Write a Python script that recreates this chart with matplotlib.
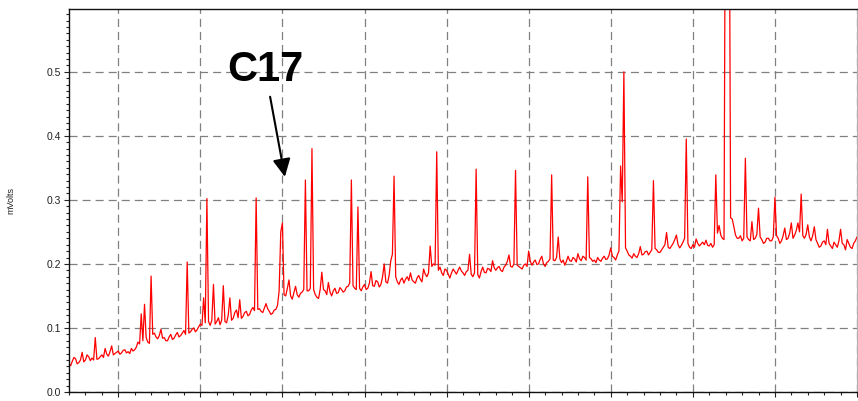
import numpy as np
import matplotlib
matplotlib.use("Agg")
import matplotlib.pyplot as plt
from matplotlib.patches import ArrowStyle
from matplotlib.ticker import MultipleLocator, NullFormatter

plt.rcParams['font.family'] = ['Liberation Sans', 'DejaVu Sans']
plt.rcParams['lines.scale_dashes'] = False

# detector signal (mV), one reading every 0.02 min starting at 0.4 min
start_time = 0.4
sample_step = 0.02
signal = [
    0.044, 0.041, 0.048, 0.054, 0.052, 0.044, 0.046, 0.050, 0.062, 0.047,
    0.050, 0.058, 0.055, 0.049, 0.053, 0.050, 0.085, 0.051, 0.052, 0.055,
    0.058, 0.054, 0.068, 0.059, 0.056, 0.063, 0.072, 0.058, 0.060, 0.062,
    0.064, 0.059, 0.061, 0.065, 0.066, 0.061, 0.063, 0.060, 0.068, 0.064,
    0.066, 0.070, 0.078, 0.075, 0.122, 0.080, 0.137, 0.085, 0.078, 0.076,
    0.181, 0.090, 0.092, 0.086, 0.083, 0.088, 0.098, 0.084, 0.085, 0.080,
    0.080, 0.086, 0.090, 0.082, 0.084, 0.089, 0.093, 0.086, 0.088, 0.092,
    0.096, 0.090, 0.203, 0.092, 0.094, 0.098, 0.100, 0.094, 0.097, 0.102,
    0.106, 0.104, 0.147, 0.108, 0.302, 0.110, 0.104, 0.112, 0.168, 0.106,
    0.110, 0.116, 0.105, 0.112, 0.166, 0.110, 0.108, 0.120, 0.147, 0.112,
    0.115, 0.124, 0.128, 0.116, 0.144, 0.115, 0.118, 0.124, 0.126, 0.119,
    0.121, 0.128, 0.132, 0.127, 0.303, 0.129, 0.130, 0.126, 0.124, 0.131,
    0.138, 0.130, 0.126, 0.121, 0.123, 0.128, 0.129, 0.135, 0.158, 0.250,
    0.264, 0.152, 0.150, 0.162, 0.175, 0.150, 0.145, 0.155, 0.165, 0.152,
    0.148, 0.154, 0.156, 0.160, 0.331, 0.158, 0.158, 0.162, 0.380, 0.160,
    0.152, 0.148, 0.146, 0.160, 0.187, 0.160, 0.158, 0.152, 0.171, 0.156,
    0.150, 0.158, 0.162, 0.154, 0.155, 0.163, 0.160, 0.156, 0.158, 0.164,
    0.165, 0.170, 0.331, 0.166, 0.162, 0.160, 0.289, 0.162, 0.158, 0.164,
    0.168, 0.160, 0.162, 0.170, 0.188, 0.166, 0.165, 0.174, 0.172, 0.164,
    0.168, 0.180, 0.200, 0.172, 0.170, 0.182, 0.205, 0.215, 0.337, 0.180,
    0.172, 0.168, 0.175, 0.178, 0.170, 0.176, 0.180, 0.174, 0.186, 0.175,
    0.172, 0.170, 0.178, 0.182, 0.176, 0.172, 0.192, 0.184, 0.180, 0.186,
    0.228, 0.196, 0.200, 0.198, 0.375, 0.190, 0.195, 0.186, 0.182, 0.192,
    0.190, 0.184, 0.178, 0.186, 0.192, 0.188, 0.184, 0.190, 0.195, 0.189,
    0.186, 0.182, 0.188, 0.190, 0.215, 0.184, 0.180, 0.186, 0.348, 0.183,
    0.178, 0.188, 0.195, 0.187, 0.186, 0.193, 0.192, 0.188, 0.205, 0.194,
    0.190, 0.194, 0.196, 0.190, 0.188, 0.195, 0.198, 0.204, 0.214, 0.196,
    0.195, 0.200, 0.346, 0.198, 0.196, 0.194, 0.192, 0.198, 0.200, 0.196,
    0.220, 0.204, 0.198, 0.203, 0.206, 0.199, 0.200, 0.207, 0.212, 0.200,
    0.196, 0.202, 0.204, 0.208, 0.339, 0.206, 0.205, 0.210, 0.242, 0.208,
    0.202, 0.206, 0.198, 0.204, 0.212, 0.205, 0.204, 0.210, 0.208, 0.203,
    0.216, 0.208, 0.205, 0.212, 0.210, 0.206, 0.336, 0.210, 0.208, 0.204,
    0.206, 0.202, 0.210, 0.206, 0.204, 0.209, 0.212, 0.207, 0.208, 0.214,
    0.225, 0.212, 0.210, 0.206, 0.214, 0.220, 0.353, 0.297, 0.500, 0.225,
    0.220, 0.214, 0.212, 0.209, 0.216, 0.212, 0.210, 0.216, 0.227, 0.214,
    0.215, 0.219, 0.220, 0.214, 0.218, 0.222, 0.330, 0.224, 0.222, 0.218,
    0.218, 0.222, 0.226, 0.230, 0.249, 0.226, 0.224, 0.228, 0.232, 0.238,
    0.245, 0.230, 0.225, 0.229, 0.234, 0.240, 0.395, 0.232, 0.226, 0.224,
    0.230, 0.226, 0.239, 0.232, 0.228, 0.231, 0.234, 0.230, 0.237, 0.229,
    0.228, 0.232, 0.226, 0.230, 0.339, 0.248, 0.260, 0.245, 0.240, 0.238,
    0.950, 1.200, 0.950, 0.272, 0.270, 0.258, 0.245, 0.240, 0.240, 0.244,
    0.236, 0.240, 0.365, 0.242, 0.238, 0.236, 0.266, 0.238, 0.240, 0.246,
    0.287, 0.242, 0.238, 0.232, 0.234, 0.240, 0.240, 0.236, 0.236, 0.242,
    0.304, 0.244, 0.240, 0.232, 0.236, 0.244, 0.256, 0.238, 0.240, 0.248,
    0.264, 0.240, 0.245, 0.252, 0.264, 0.250, 0.309, 0.244, 0.240, 0.246,
    0.261, 0.242, 0.236, 0.244, 0.258, 0.238, 0.232, 0.226, 0.228, 0.234,
    0.236, 0.230, 0.254, 0.232, 0.228, 0.224, 0.234, 0.230, 0.226, 0.236,
    0.254, 0.232, 0.230, 0.222, 0.238, 0.232, 0.226, 0.224, 0.232, 0.236,
    0.242,
]
times = start_time + sample_step * np.arange(len(signal))

y_ticks = [0.0, 0.1, 0.2, 0.3, 0.4, 0.5]
y_tick_labels = ['0.0', '0.1', '0.2', '0.3', '0.4', '0.5']

# C17 label and arrow (min, mV)
label_text = 'C17'
label_pos = (2.79, 0.503)
arrow_tail = (2.85, 0.461)
arrow_tip = (3.03, 0.336)

fig = plt.figure(figsize=(8.58, 4.01), dpi=100)
ax = fig.add_axes([69 / 858, 9 / 401, 788 / 858, 383 / 401])

ax.plot(times, signal, color='#ff0000', linewidth=0.9)

ax.set_xlim(0.4, 10.0)
ax.set_ylim(0.0, 0.598)

ax.xaxis.set_major_locator(MultipleLocator(1.0))
ax.xaxis.set_minor_locator(MultipleLocator(0.2))
ax.xaxis.set_major_formatter(NullFormatter())
ax.set_yticks(y_ticks)
ax.set_yticklabels(y_tick_labels)
ax.yaxis.set_minor_locator(MultipleLocator(0.01))

ax.tick_params(axis='both', which='both', direction='out', color='#222222',
               width=0.8)
ax.tick_params(axis='both', which='major', length=3.5)
ax.tick_params(axis='both', which='minor', length=2.5)
ax.tick_params(axis='y', labelsize=7.5, labelcolor='#222222', pad=2)

ax.grid(True, which='major', color='#808080', linewidth=0.9,
        linestyle=(0, (5.8, 3.6)))
ax.set_axisbelow(True)

for side in ['left', 'bottom', 'top']:
    ax.spines[side].set_color('#111111')
    ax.spines[side].set_linewidth(1.0)
ax.spines['right'].set_color('#b0b0b0')
ax.spines['right'].set_linewidth(0.8)

ax.set_ylabel('mVolts', fontsize=6.5, color='#222222')
ax.yaxis.set_label_coords(-0.0685, 0.5)

ax.text(label_pos[0], label_pos[1], label_text, fontsize=30,
        fontweight='bold', ha='center', va='center', color='black')
ax.annotate('', xy=arrow_tip, xytext=arrow_tail,
            arrowprops=dict(arrowstyle=ArrowStyle('-|>', head_length=0.4,
                                                  head_width=0.2),
                            mutation_scale=27, lw=1.5, color='black',
                            shrinkA=0, shrinkB=0))

fig.savefig('out.png', dpi=100)
